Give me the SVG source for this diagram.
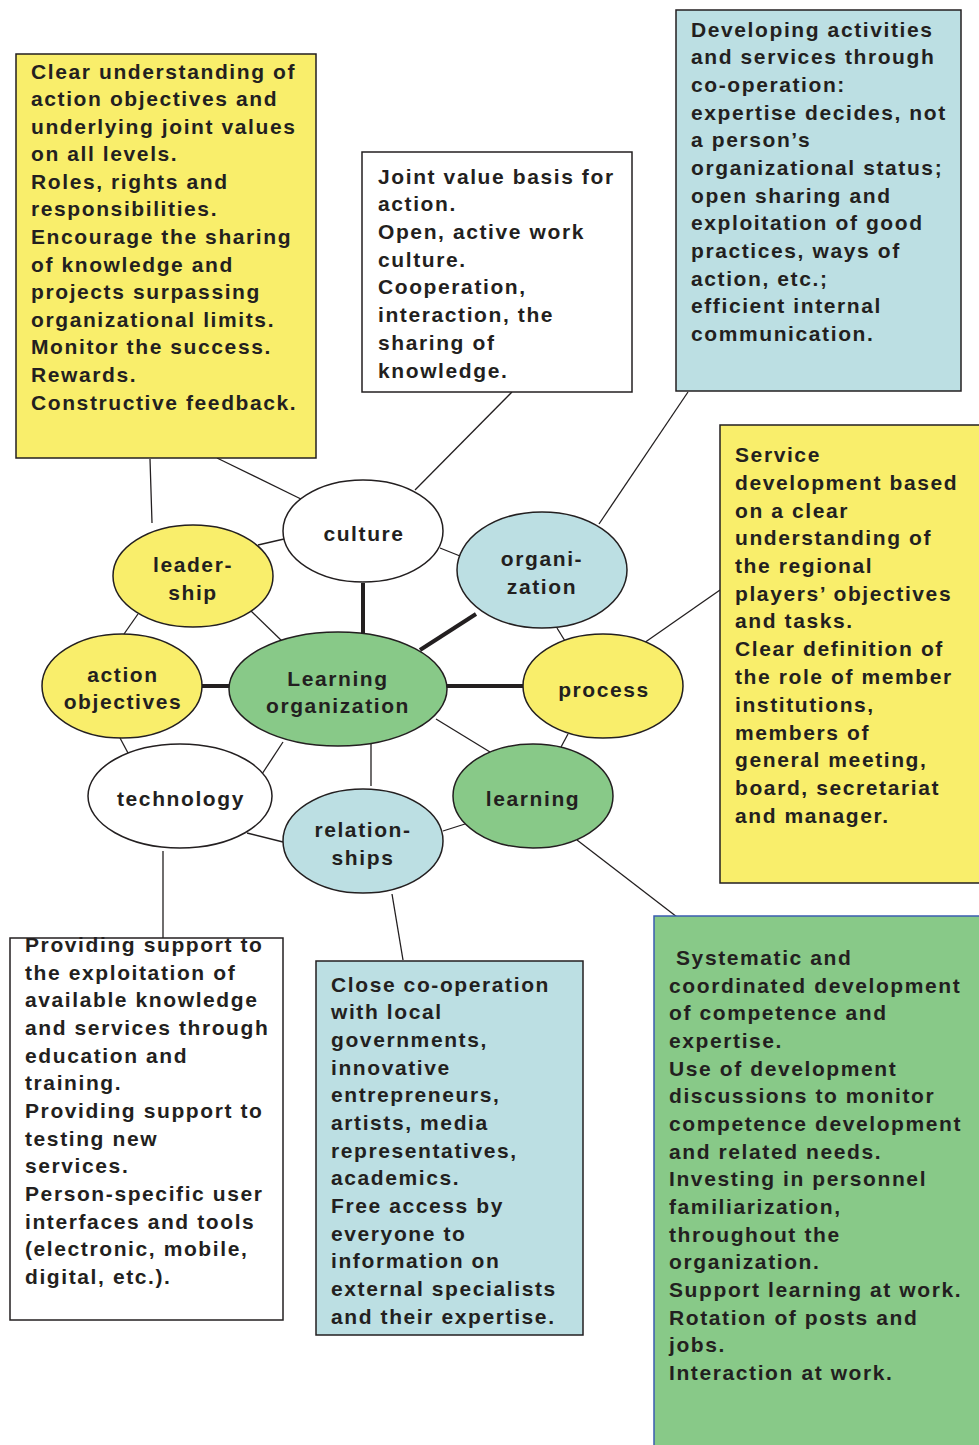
<svg xmlns="http://www.w3.org/2000/svg" width="979" height="1445" viewBox="0 0 979 1445">
<style>
text{font-family:"Liberation Sans",Arial,sans-serif;font-weight:bold;font-size:21px;letter-spacing:1.6px;fill:#231F20}
.c{text-anchor:middle}
.box{stroke:#231F20;stroke-width:1.5}
.el{stroke:#231F20;stroke-width:1.5}
.y{fill:#F9EE6B}.b{fill:#BCDFE3}.g{fill:#88C988}.w{fill:#FFFFFF}
.thin{stroke:#231F20;stroke-width:1.3;fill:none}
.thick{stroke:#231F20;stroke-width:4;fill:none}
</style>
<rect width="979" height="1445" fill="#FFFFFF"/>
<g id="connectors">
<line class="thin" x1="150" y1="459" x2="152" y2="523"/>
<line class="thin" x1="217" y1="458" x2="305" y2="501"/>
<line class="thin" x1="258" y1="545" x2="284" y2="539"/>
<line class="thin" x1="251" y1="611" x2="284" y2="643"/>
<line class="thin" x1="138" y1="614" x2="124" y2="634"/>
<line class="thick" x1="202" y1="686" x2="229" y2="686"/>
<line class="thin" x1="512" y1="392" x2="415" y2="490"/>
<line class="thick" x1="363" y1="583" x2="363" y2="633"/>
<line class="thin" x1="440" y1="548" x2="460" y2="556"/>
<line class="thin" x1="688" y1="392" x2="599" y2="524"/>
<line class="thick" x1="420" y1="650" x2="476" y2="614"/>
<line class="thin" x1="557" y1="628" x2="565" y2="641"/>
<line class="thick" x1="447" y1="686" x2="523" y2="686"/>
<line class="thin" x1="644" y1="643" x2="720" y2="590"/>
<line class="thin" x1="436" y1="719" x2="490" y2="752"/>
<line class="thin" x1="568" y1="734" x2="561" y2="747"/>
<line class="thin" x1="371" y1="742" x2="371" y2="786"/>
<line class="thin" x1="465" y1="824" x2="443" y2="831"/>
<line class="thin" x1="577" y1="840" x2="677" y2="917"/>
<line class="thin" x1="392" y1="894" x2="403" y2="960"/>
<line class="thin" x1="120" y1="738" x2="128" y2="753"/>
<line class="thin" x1="283" y1="742" x2="262" y2="774"/>
<line class="thin" x1="247" y1="833" x2="283" y2="842"/>
<line class="thin" x1="163" y1="851" x2="163" y2="938"/>
</g>
<g id="box-leadership">
<rect class="box y" x="16" y="54" width="300" height="404"/>
<text x="31" y="79">Clear understanding of</text>
<text x="31" y="106">action objectives and</text>
<text x="31" y="134">underlying joint values</text>
<text x="31" y="161">on all levels.</text>
<text x="31" y="189">Roles, rights and</text>
<text x="31" y="216">responsibilities.</text>
<text x="31" y="244">Encourage the sharing</text>
<text x="31" y="272">of knowledge and</text>
<text x="31" y="299">projects surpassing</text>
<text x="31" y="327">organizational limits.</text>
<text x="31" y="354">Monitor the success.</text>
<text x="31" y="382">Rewards.</text>
<text x="31" y="410">Constructive feedback.</text>
</g>
<g id="box-culture">
<rect class="box w" x="362" y="152" width="270" height="240"/>
<text x="378" y="184">Joint value basis for</text>
<text x="378" y="211">action.</text>
<text x="378" y="239">Open, active work</text>
<text x="378" y="267">culture.</text>
<text x="378" y="294">Cooperation,</text>
<text x="378" y="322">interaction, the</text>
<text x="378" y="350">sharing of</text>
<text x="378" y="378">knowledge.</text>
</g>
<g id="box-organization">
<rect class="box b" x="676" y="10" width="285" height="381"/>
<text x="691" y="37">Developing activities</text>
<text x="691" y="64">and services through</text>
<text x="691" y="92">co-operation:</text>
<text x="691" y="120">expertise decides, not</text>
<text x="691" y="147">a person’s</text>
<text x="691" y="175">organizational status;</text>
<text x="691" y="203">open sharing and</text>
<text x="691" y="230">exploitation of good</text>
<text x="691" y="258">practices, ways of</text>
<text x="691" y="286">action, etc.;</text>
<text x="691" y="313">efficient internal</text>
<text x="691" y="341">communication.</text>
</g>
<g id="box-process">
<rect class="box y" x="720" y="425" width="262" height="458"/>
<text x="735" y="462">Service</text>
<text x="735" y="490">development based</text>
<text x="735" y="518">on a clear</text>
<text x="735" y="545">understanding of</text>
<text x="735" y="573">the regional</text>
<text x="735" y="601">players’ objectives</text>
<text x="735" y="628">and tasks.</text>
<text x="735" y="656">Clear definition of</text>
<text x="735" y="684">the role of member</text>
<text x="735" y="712">institutions,</text>
<text x="735" y="740">members of</text>
<text x="735" y="767">general meeting,</text>
<text x="735" y="795">board, secretariat</text>
<text x="735" y="823">and manager.</text>
</g>
<g id="box-technology">
<rect class="box w" x="10" y="938" width="273" height="382"/>
<text x="25" y="952">Providing support to</text>
<text x="25" y="980">the exploitation of</text>
<text x="25" y="1007">available knowledge</text>
<text x="25" y="1035">and services through</text>
<text x="25" y="1063">education and</text>
<text x="25" y="1090">training.</text>
<text x="25" y="1118">Providing support to</text>
<text x="25" y="1146">testing new</text>
<text x="25" y="1173">services.</text>
<text x="25" y="1201">Person-specific user</text>
<text x="25" y="1229">interfaces and tools</text>
<text x="25" y="1256">(electronic, mobile,</text>
<text x="25" y="1284">digital, etc.).</text>
</g>
<g id="box-relationships">
<rect class="box b" x="316" y="961" width="267" height="374"/>
<text x="331" y="992">Close co-operation</text>
<text x="331" y="1019">with local</text>
<text x="331" y="1047">governments,</text>
<text x="331" y="1075">innovative</text>
<text x="331" y="1102">entrepreneurs,</text>
<text x="331" y="1130">artists, media</text>
<text x="331" y="1158">representatives,</text>
<text x="331" y="1185">academics.</text>
<text x="331" y="1213">Free access by</text>
<text x="331" y="1241">everyone to</text>
<text x="331" y="1268">information on</text>
<text x="331" y="1296">external specialists</text>
<text x="331" y="1324">and their expertise.</text>
</g>
<g id="box-learning">
<rect x="654" y="916" width="328" height="532" fill="#88C988" stroke="#3A5CB0" stroke-width="1.5"/>
<text x="676" y="965">Systematic and</text>
<text x="669" y="993">coordinated development</text>
<text x="669" y="1020">of competence and</text>
<text x="669" y="1048">expertise.</text>
<text x="669" y="1076">Use of development</text>
<text x="669" y="1103">discussions to monitor</text>
<text x="669" y="1131">competence development</text>
<text x="669" y="1159">and related needs.</text>
<text x="669" y="1186">Investing in personnel</text>
<text x="669" y="1214">familiarization,</text>
<text x="669" y="1242">throughout the</text>
<text x="669" y="1269">organization.</text>
<text x="669" y="1297">Support learning at work.</text>
<text x="669" y="1325">Rotation of posts and</text>
<text x="669" y="1352">jobs.</text>
<text x="669" y="1380">Interaction at work.</text>
</g>
<g id="node-culture">
<ellipse class="el w" cx="363" cy="531" rx="80" ry="51"/>
<text class="c" x="364" y="541">culture</text>
</g>
<g id="node-leadership">
<ellipse class="el y" cx="193" cy="576" rx="80" ry="51"/>
<text class="c" x="193" y="572">leader-</text>
<text class="c" x="193" y="600">ship</text>
</g>
<g id="node-action-objectives">
<ellipse class="el y" cx="122" cy="686" rx="80" ry="52"/>
<text class="c" x="123" y="682">action</text>
<text class="c" x="123" y="709">objectives</text>
</g>
<g id="node-learning-organization">
<ellipse class="el g" cx="338" cy="689" rx="109" ry="57"/>
<text class="c" x="338" y="686">Learning</text>
<text class="c" x="338" y="713">organization</text>
</g>
<g id="node-organization">
<ellipse class="el b" cx="542" cy="570" rx="85" ry="58"/>
<text class="c" x="542" y="566">organi-</text>
<text class="c" x="542" y="594">zation</text>
</g>
<g id="node-process">
<ellipse class="el y" cx="603" cy="686" rx="80" ry="52"/>
<text class="c" x="604" y="697">process</text>
</g>
<g id="node-technology">
<ellipse class="el w" cx="180" cy="796" rx="92" ry="52"/>
<text class="c" x="181" y="806">technology</text>
</g>
<g id="node-relationships">
<ellipse class="el b" cx="363" cy="841" rx="80" ry="52"/>
<text class="c" x="363" y="837">relation-</text>
<text class="c" x="363" y="865">ships</text>
</g>
<g id="node-learning">
<ellipse class="el g" cx="533" cy="796" rx="80" ry="52"/>
<text class="c" x="533" y="806">learning</text>
</g>
</svg>
